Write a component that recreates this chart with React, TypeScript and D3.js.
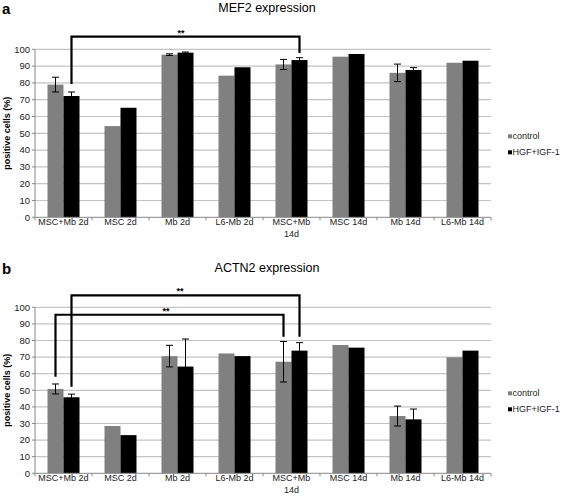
import React from "react";
import * as d3 from "d3";

const categories = [
  "MSC+Mb 2d",
  "MSC 2d",
  "Mb 2d",
  "L6-Mb 2d",
  "MSC+Mb\n14d",
  "MSC 14d",
  "Mb 14d",
  "L6-Mb 14d",
];
const seriesNames = ["control", "HGF+IGF-1"];
const seriesColors = ["#808080", "#000000"];
const yTicks = [0, 10, 20, 30, 40, 50, 60, 70, 80, 90, 100];

// MEF2 (panel a)
const mef2Control = [79, 54.3, 96.8, 84.3, 91, 95.6, 86, 92];
const mef2Hgf = [72.2, 65.2, 98, 89.3, 93.6, 97.2, 87.7, 93.2];
const mef2ControlErr = [4.4, 0, 0.5, 0, 3, 0, 5.2, 0];
const mef2HgfErr = [2.4, 0, 0.4, 0, 1.4, 0, 1.4, 0];

// ACTN2 (panel b)
const actn2Control = [50.8, 28.5, 70.6, 72.2, 67.2, 77.3, 34.5, 69.9];
const actn2Hgf = [45.8, 23, 64.3, 70.6, 73.9, 75.7, 32.5, 73.9];
const actn2ControlErr = [3, 0, 6.5, 0, 12.2, 0, 6, 0];
const actn2HgfErr = [1.9, 0, 16.6, 0, 4.8, 0, 6.2, 0];

// significance brackets, in data units
type Bracket = { from: [number, number]; to: [number, number]; feet: [number, number]; top: number; starX: number };
const mef2Brackets: Bracket[] = [
  { from: [0, 1], to: [4, 1], feet: [79.3, 97.8], top: 107.5, starX: 181 },
];
const actn2Brackets: Bracket[] = [
  { from: [0, 1], to: [4, 1], feet: [52.2, 82.3], top: 107.2, starX: 180 },
  { from: [0, 0], to: [4, 0], feet: [58.2, 82.3], top: 95.5, starX: 166 },
];

const font = "'Liberation Sans', Arial, sans-serif";

interface PanelProps {
  letter: string;
  title: string;
  values: number[][];
  errors: number[][];
  brackets: Bracket[];
  top: number;
  bottom: number;
  titleY: number;
}

const Panel: React.FC<PanelProps> = ({ letter, title, values, errors, brackets, top, bottom, titleY }) => {
  const left = 35;
  const right = 491;
  const x = d3.scaleBand<string>().domain(categories).range([left, right]);
  const y = d3.scaleLinear().domain([0, 100]).range([bottom, top]);
  const barW = 16;
  const barX = (ci: number, si: number) => (x(categories[ci]) as number) + x.bandwidth() / 2 - barW + si * barW;
  const barC = (ci: number, si: number) => barX(ci, si) + barW / 2;

  return (
    <g>
      <text x={2} y={titleY + 2} fontFamily={font} fontWeight="bold" fontSize={15}>
        {letter}
      </text>
      <text x={267} y={titleY} textAnchor="middle" fontFamily={font} fontSize={12.5}>
        {title}
      </text>
      {yTicks.map((t) => (
        <g key={t}>
          {t > 0 && <line x1={left} x2={right} y1={y(t)} y2={y(t)} stroke="#c4c4c4" strokeWidth={1.2} />}
          <line x1={left - 3} x2={left} y1={y(t)} y2={y(t)} stroke="#888" />
          <text x={30} y={y(t) + 3.3} textAnchor="end" fontFamily={font} fontSize={9.5} fill="#222">
            {t}
          </text>
        </g>
      ))}
      {values.map((series, si) =>
        series.map((v, ci) => (
          <rect key={`${si}-${ci}`} x={barX(ci, si)} y={y(v)} width={barW} height={y(0) - y(v)} fill={seriesColors[si]} />
        ))
      )}
      {errors.map((series, si) =>
        series.map((e, ci) => {
          if (!e) return null;
          const cx = barC(ci, si);
          const v = values[si][ci];
          const y1 = y(v + e);
          const y2 = y(v - e);
          return (
            <g key={`e${si}-${ci}`} stroke="#000" strokeWidth={1}>
              <line x1={cx} x2={cx} y1={y1} y2={y2} />
              <line x1={cx - 3.5} x2={cx + 3.5} y1={y1} y2={y1} />
              <line x1={cx - 3.5} x2={cx + 3.5} y1={y2} y2={y2} />
            </g>
          );
        })
      )}
      <line x1={left} x2={left} y1={top} y2={bottom} stroke="#888" />
      <line x1={left} x2={right} y1={bottom} y2={bottom} stroke="#888" />
      {d3.range(categories.length + 1).map((i) => {
        const tx = left + i * x.step();
        return <line key={i} x1={tx} x2={tx} y1={bottom} y2={bottom + 3} stroke="#888" />;
      })}
      {categories.map((c) => {
        const lines = c.split("\n");
        return (
          <text key={c} textAnchor="middle" fontFamily={font} fontSize={9} fill="#222">
            {lines.map((l, li) => (
              <tspan key={li} x={(x(c) as number) + x.bandwidth() / 2} y={bottom + 7.5 + li * 12}>
                {l}
              </tspan>
            ))}
          </text>
        );
      })}
      <text
        transform={`translate(10,${(top + bottom) / 2}) rotate(-90)`}
        textAnchor="middle"
        fontFamily={font}
        fontWeight="bold"
        fontSize={9}
      >
        positive cells (%)
      </text>
      {brackets.map((b, i) => {
        const x1 = barC(b.from[0], b.from[1]);
        const x2 = barC(b.to[0], b.to[1]);
        const d = `M${x1},${y(b.feet[0])}V${y(b.top)}H${x2}V${y(b.feet[1])}`;
        return (
          <g key={i}>
            <path d={d} fill="none" stroke="#000" strokeWidth={2.2} />
            <text x={b.starX} y={y(b.top) - 1} textAnchor="middle" fontFamily={font} fontSize={9} fontWeight="bold">
              **
            </text>
          </g>
        );
      })}
      {seriesNames.map((s, si) => {
        const ly = (top + bottom) / 2 + 3 + si * 16;
        return (
          <g key={s}>
            <rect x={508} y={ly - 2} width={4} height={4} fill={seriesColors[si]} />
            <text x={512.5} y={ly + 3} fontFamily={font} fontSize={9} fill="#222">
              {s}
            </text>
          </g>
        );
      })}
    </g>
  );
};

const App: React.FC = () => (
  <svg width={564} height={498} style={{ position: "absolute", left: 0, top: 0, background: "#fff" }}>
    <rect width={564} height={498} fill="#fff" />
    <Panel
      letter="a"
      title="MEF2 expression"
      values={[mef2Control, mef2Hgf]}
      errors={[mef2ControlErr, mef2HgfErr]}
      brackets={mef2Brackets}
      top={49.3}
      bottom={217.3}
      titleY={12}
    />
    <Panel
      letter="b"
      title="ACTN2 expression"
      values={[actn2Control, actn2Hgf]}
      errors={[actn2ControlErr, actn2HgfErr]}
      brackets={actn2Brackets}
      top={307.3}
      bottom={473.3}
      titleY={272}
    />
  </svg>
);

export default App;
